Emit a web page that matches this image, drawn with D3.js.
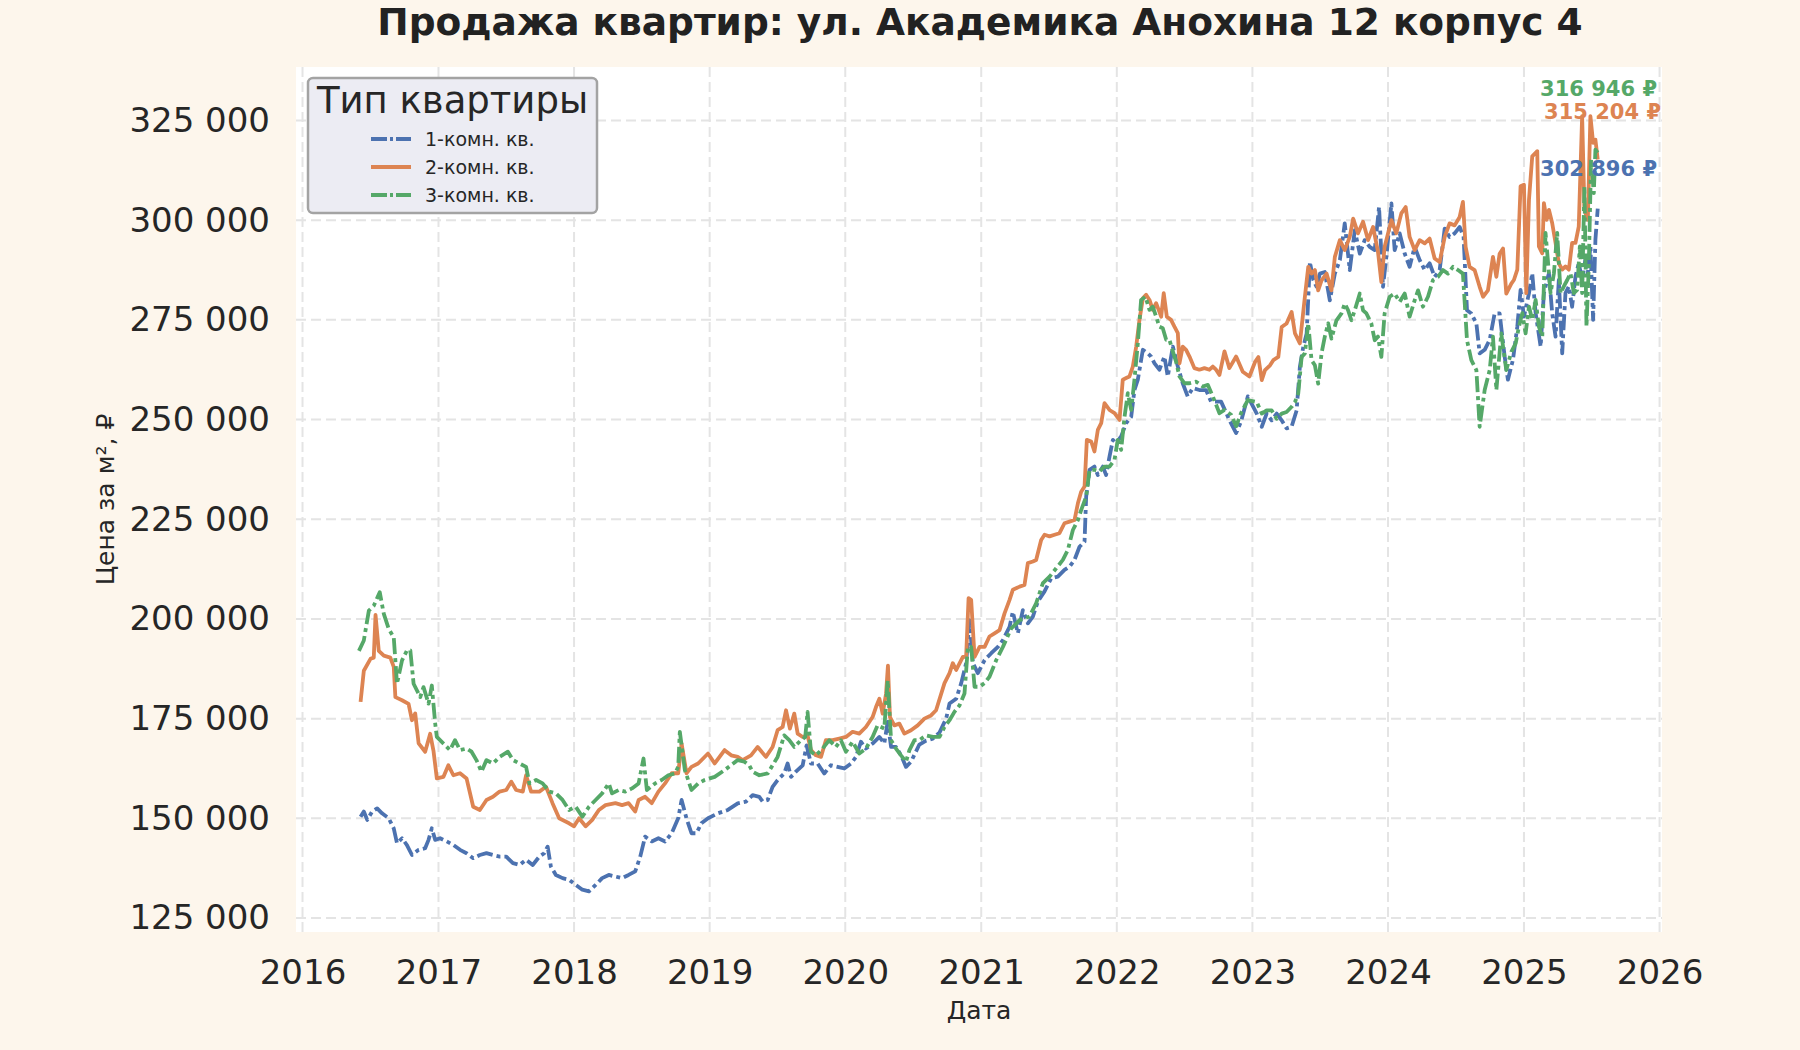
<!DOCTYPE html>
<html>
<head>
<meta charset="utf-8">
<script src="https://cdn.jsdelivr.net/npm/d3@7"></script>
<style>
  html, body { margin: 0; padding: 0; background: #fdf6ec; }
  svg { display: block; font-family: "DejaVu Sans", sans-serif; }
</style>
</head>
<body>
<svg id="chart"></svg>
<script>
const width = 1800;
const height = 1050;

// Tick labels
const xTickYears = [2016, 2017, 2018, 2019, 2020, 2021, 2022, 2023, 2024, 2025, 2026];
const yTickValues = [125000, 150000, 175000, 200000, 225000, 250000, 275000, 300000, 325000];

const seriesNames = ["1-комн. кв.", "2-комн. кв.", "3-комн. кв."];
const seriesColors = ["#4c72b0", "#dd8452", "#55a868"];

// [decimal year, price per m2]
const oneRoom = [
  [2016.427,150400],[2016.451,151700],[2016.476,149600],[2016.512,151700],[2016.549,152500],[2016.585,151250],
  [2016.634,150000],[2016.671,147500],[2016.695,143750],[2016.732,145000],[2016.768,143300],[2016.805,140800],
  [2016.854,142100],[2016.902,142500],[2016.927,144600],[2016.951,147500],[2016.976,144600],[2017.012,145000],
  [2017.061,144200],[2017.110,143300],[2017.159,142100],[2017.207,141250],[2017.256,140000],[2017.305,140800],
  [2017.354,141250],[2017.402,140800],[2017.451,140400],[2017.500,140400],[2017.549,138750],[2017.598,138300],
  [2017.646,139600],[2017.695,138300],[2017.744,140400],[2017.780,141250],[2017.805,142900],[2017.829,137900],
  [2017.866,135800],[2017.915,135000],[2017.963,134600],[2018.012,133300],[2018.061,132100],[2018.110,131700],
  [2018.159,133300],[2018.207,135000],[2018.256,135800],[2018.305,135400],[2018.354,135000],[2018.402,135800],
  [2018.451,136700],[2018.488,140400],[2018.524,145400],[2018.573,144200],[2018.622,145000],[2018.671,144200],
  [2018.720,146250],[2018.768,150000],[2018.793,154600],[2018.829,150000],[2018.866,146250],[2018.902,146250],
  [2018.939,148750],[2018.988,150000],[2019.061,151250],[2019.134,152100],[2019.207,153750],[2019.268,154200],
  [2019.317,155800],[2019.366,155400],[2019.391,154200],[2019.428,154600],[2019.464,157900],[2019.501,159600],
  [2019.550,161250],[2019.575,163750],[2019.600,160400],[2019.636,161700],[2019.686,163300],[2019.715,168300],
  [2019.747,163750],[2019.796,163750],[2019.845,161250],[2019.894,163300],[2019.943,162900],[2019.993,162500],
  [2020.042,163750],[2020.079,165400],[2020.115,169200],[2020.152,167500],[2020.201,168750],[2020.251,170400],
  [2020.287,168750],[2020.312,174200],[2020.337,167900],[2020.373,167900],[2020.410,165800],[2020.447,162900],
  [2020.484,164200],[2020.545,168500],[2020.595,169500],[2020.644,170000],[2020.693,171500],[2020.742,175000],
  [2020.767,178800],[2020.816,180000],[2020.853,183900],[2020.889,188900],[2020.914,199700],[2020.939,188900],
  [2020.975,186400],[2021.025,189700],[2021.074,191400],[2021.123,193000],[2021.160,194700],[2021.209,198000],
  [2021.233,201800],[2021.270,196400],[2021.307,202200],[2021.344,198900],[2021.381,200600],[2021.418,204400],
  [2021.467,206900],[2021.516,210200],[2021.565,210600],[2021.614,212300],[2021.651,213100],[2021.688,214800],
  [2021.725,218100],[2021.762,219400],[2021.774,230700],[2021.799,237400],[2021.835,238200],[2021.860,236100],
  [2021.897,238200],[2021.921,236100],[2021.946,240700],[2021.971,244900],[2021.995,244100],[2022.032,245800],
  [2022.069,249100],[2022.106,250700],[2022.130,257400],[2022.155,260000],[2022.192,267500],[2022.229,266600],
  [2022.253,265800],[2022.278,264100],[2022.314,262500],[2022.351,265800],[2022.376,260800],[2022.413,268300],
  [2022.450,263300],[2022.486,259100],[2022.523,255800],[2022.560,257900],[2022.609,257400],[2022.658,257400],
  [2022.695,254500],[2022.732,254500],[2022.769,254500],[2022.830,249900],[2022.880,246600],[2022.916,249500],
  [2022.966,255800],[2023.032,251500],[2023.069,248200],[2023.105,251500],[2023.142,249800],[2023.179,251500],
  [2023.216,249800],[2023.252,247800],[2023.289,248200],[2023.326,252300],[2023.350,263200],[2023.375,268200],
  [2023.400,271600],[2023.424,289500],[2023.449,285000],[2023.473,283300],[2023.498,286600],[2023.534,287000],
  [2023.571,279900],[2023.608,286600],[2023.645,290000],[2023.681,299200],[2023.718,287500],[2023.755,297500],
  [2023.792,291600],[2023.828,295000],[2023.865,293300],[2023.902,292500],[2023.934,303300],[2023.963,283300],
  [2023.988,290800],[2024.025,304200],[2024.049,292500],[2024.086,296700],[2024.123,291600],[2024.159,288300],
  [2024.196,293300],[2024.233,290000],[2024.270,287500],[2024.306,289200],[2024.343,285800],[2024.380,287500],
  [2024.417,297900],[2024.453,295800],[2024.490,296700],[2024.527,298300],[2024.556,295800],[2024.581,277400],
  [2024.613,276600],[2024.650,274100],[2024.674,266600],[2024.711,267500],[2024.748,270000],[2024.784,276600],
  [2024.821,276600],[2024.858,265800],[2024.882,260000],[2024.919,265000],[2024.951,273300],[2024.975,282500],
  [2025.000,275800],[2025.037,281700],[2025.061,286700],[2025.086,276700],[2025.123,268300],[2025.147,281700],
  [2025.184,286700],[2025.208,276700],[2025.233,270800],[2025.257,285000],[2025.282,266600],[2025.306,281700],
  [2025.331,283400],[2025.355,278300],[2025.380,285900],[2025.404,289200],[2025.429,285000],[2025.453,290100],
  [2025.471,286700],[2025.490,293400],[2025.510,275000],[2025.527,295100],[2025.544,302896]
];

const twoRoom = [
  [2016.427,179200],[2016.451,187000],[2016.500,190000],[2016.524,190300],[2016.537,201000],[2016.561,192000],
  [2016.598,190800],[2016.646,190300],[2016.671,188000],[2016.683,180400],[2016.732,179600],[2016.780,178700],
  [2016.805,174600],[2016.829,176300],[2016.854,168800],[2016.902,166700],[2016.939,171200],[2016.963,167000],
  [2016.988,160000],[2017.037,160400],[2017.073,163300],[2017.110,160800],[2017.159,161300],[2017.207,160000],
  [2017.256,152900],[2017.305,152100],[2017.354,154600],[2017.402,155400],[2017.451,156700],[2017.500,157100],
  [2017.537,159200],[2017.573,157100],[2017.622,156700],[2017.646,160800],[2017.683,156700],[2017.744,156700],
  [2017.793,157900],[2017.841,153800],[2017.890,150000],[2017.963,148750],[2018.000,148000],[2018.037,150000],
  [2018.085,148000],[2018.134,149600],[2018.183,152100],[2018.232,153300],[2018.305,153800],[2018.354,153300],
  [2018.402,153800],[2018.451,151700],[2018.476,154600],[2018.524,155400],[2018.573,153800],[2018.622,156700],
  [2018.671,158750],[2018.720,161300],[2018.768,161300],[2018.793,168750],[2018.829,161300],[2018.866,162900],
  [2018.915,163750],[2018.988,166250],[2019.037,163750],[2019.110,167100],[2019.159,165800],[2019.207,165400],
  [2019.243,164600],[2019.305,165800],[2019.354,167900],[2019.415,165400],[2019.464,167900],[2019.501,172100],
  [2019.538,172900],[2019.563,177100],[2019.592,172500],[2019.624,176250],[2019.649,171250],[2019.686,170400],
  [2019.722,170800],[2019.747,167100],[2019.784,165800],[2019.821,165400],[2019.857,169600],[2019.907,169600],
  [2019.956,170000],[2020.005,170400],[2020.054,171700],[2020.103,171250],[2020.152,172900],[2020.201,175400],
  [2020.226,177900],[2020.251,180000],[2020.275,176250],[2020.300,181250],[2020.314,188300],[2020.329,175400],
  [2020.361,173300],[2020.398,173750],[2020.435,171250],[2020.484,172100],[2020.533,173300],[2020.582,175000],
  [2020.631,175800],[2020.668,177100],[2020.730,183900],[2020.767,186400],[2020.791,188900],[2020.816,187200],
  [2020.865,190500],[2020.889,190500],[2020.907,205200],[2020.926,204800],[2020.951,190500],[2020.988,193000],
  [2021.025,193000],[2021.061,195600],[2021.098,196400],[2021.135,197200],[2021.172,201400],[2021.209,204800],
  [2021.233,207300],[2021.283,208100],[2021.319,208500],[2021.344,214000],[2021.381,214400],[2021.405,214800],
  [2021.442,219800],[2021.467,221100],[2021.504,220700],[2021.541,221100],[2021.577,221500],[2021.614,224000],
  [2021.651,224400],[2021.688,224800],[2021.713,229000],[2021.737,231900],[2021.762,233200],[2021.779,244900],
  [2021.811,244500],[2021.835,242000],[2021.860,247400],[2021.885,249100],[2021.909,254100],[2021.946,252400],
  [2021.983,251600],[2022.020,249900],[2022.044,260000],[2022.069,260400],[2022.093,260800],[2022.118,263300],
  [2022.143,268300],[2022.167,275000],[2022.192,280400],[2022.216,281300],[2022.241,280000],[2022.265,277500],
  [2022.290,279200],[2022.327,275800],[2022.346,281700],[2022.369,275800],[2022.400,275000],[2022.425,273300],
  [2022.450,271700],[2022.462,264100],[2022.486,268300],[2022.511,267500],[2022.536,265800],[2022.572,262900],
  [2022.609,262500],[2022.646,262900],[2022.683,262500],[2022.708,263300],[2022.732,262500],[2022.757,261200],
  [2022.794,267100],[2022.830,262900],[2022.880,265800],[2022.929,262000],[2022.978,260800],[2023.020,264500],
  [2023.044,265700],[2023.069,259900],[2023.093,262400],[2023.130,263600],[2023.154,264900],[2023.191,265700],
  [2023.216,273200],[2023.252,274100],[2023.289,277000],[2023.314,271600],[2023.350,269100],[2023.387,280800],
  [2023.412,288300],[2023.436,286600],[2023.461,287500],[2023.485,282400],[2023.510,284900],[2023.547,286600],
  [2023.583,282400],[2023.608,290800],[2023.645,295000],[2023.681,292500],[2023.718,295800],[2023.743,300400],
  [2023.779,296700],[2023.816,299600],[2023.853,295000],[2023.890,298300],[2023.926,292100],[2023.951,284500],
  [2023.975,293300],[2024.025,300000],[2024.061,296700],[2024.098,301700],[2024.130,303300],[2024.159,295800],
  [2024.196,292500],[2024.233,295000],[2024.270,294200],[2024.306,295400],[2024.343,290400],[2024.380,289500],
  [2024.417,295800],[2024.453,299200],[2024.490,298700],[2024.527,300800],[2024.551,304600],[2024.571,293300],
  [2024.600,288300],[2024.637,287500],[2024.674,283300],[2024.699,280800],[2024.735,282400],[2024.772,290800],
  [2024.797,285800],[2024.821,291600],[2024.846,292900],[2024.870,281600],[2024.907,284100],[2024.926,285000],
  [2024.951,287600],[2024.975,308500],[2025.000,308900],[2025.017,281700],[2025.037,305100],[2025.061,316000],
  [2025.086,316900],[2025.098,317300],[2025.110,293400],[2025.135,291700],[2025.147,304300],[2025.167,300100],
  [2025.184,302600],[2025.208,299300],[2025.233,294300],[2025.257,289200],[2025.282,287600],[2025.306,288400],
  [2025.331,287600],[2025.355,294300],[2025.380,294300],[2025.404,298400],[2025.429,326100],[2025.446,302600],
  [2025.471,300100],[2025.490,326100],[2025.510,319400],[2025.527,320200],[2025.544,315204]
];

const threeRoom = [
  [2016.415,192000],[2016.451,194600],[2016.488,202100],[2016.524,203300],[2016.568,206700],[2016.598,201250],
  [2016.634,197500],[2016.671,195400],[2016.695,183750],[2016.732,189600],[2016.768,192100],[2016.793,192100],
  [2016.817,183750],[2016.866,180400],[2016.890,182900],[2016.927,178750],[2016.951,183300],[2016.976,173750],
  [2016.988,170400],[2017.037,168750],[2017.085,167100],[2017.122,169600],[2017.159,167100],[2017.207,167500],
  [2017.244,166700],[2017.280,164600],[2017.317,161700],[2017.354,164600],[2017.402,163750],[2017.451,165400],
  [2017.512,166700],[2017.549,164600],[2017.598,163750],[2017.646,162900],[2017.671,158750],[2017.720,159600],
  [2017.768,158750],[2017.817,156700],[2017.866,156250],[2017.915,154600],[2017.963,152100],[2018.012,152900],
  [2018.061,150400],[2018.110,152900],[2018.159,154600],[2018.207,156250],[2018.256,158750],[2018.280,156250],
  [2018.329,157100],[2018.378,156700],[2018.427,157500],[2018.476,158750],[2018.512,165000],[2018.537,157100],
  [2018.598,158750],[2018.646,159600],[2018.695,160800],[2018.744,161250],[2018.768,162900],[2018.780,171700],
  [2018.817,162100],[2018.866,157100],[2018.915,158750],[2018.963,159600],[2019.037,160400],[2019.110,162100],
  [2019.207,164600],[2019.256,164200],[2019.292,163300],[2019.317,161700],[2019.366,160800],[2019.428,161250],
  [2019.464,163300],[2019.501,165400],[2019.550,170800],[2019.587,169600],[2019.624,167900],[2019.673,169600],
  [2019.705,170400],[2019.722,176700],[2019.747,166700],[2019.784,165800],[2019.833,167500],[2019.882,169600],
  [2019.931,167900],[2019.968,169600],[2020.005,166700],[2020.054,169200],[2020.103,166250],[2020.152,167500],
  [2020.201,170400],[2020.238,173300],[2020.287,172500],[2020.312,184600],[2020.337,169600],[2020.373,167500],
  [2020.410,165800],[2020.447,164200],[2020.472,167100],[2020.509,169600],[2020.545,169600],[2020.595,170800],
  [2020.644,170400],[2020.693,170400],[2020.730,172900],[2020.767,174600],[2020.803,176700],[2020.840,178300],
  [2020.877,181300],[2020.902,193000],[2020.926,193000],[2020.951,183000],[2020.988,183000],[2021.025,183900],
  [2021.061,185500],[2021.111,189700],[2021.160,193000],[2021.221,197600],[2021.283,199700],[2021.356,200600],
  [2021.405,203900],[2021.455,209000],[2021.504,210600],[2021.553,212700],[2021.602,214800],[2021.639,217300],
  [2021.676,222300],[2021.713,224800],[2021.737,227300],[2021.774,230700],[2021.799,237400],[2021.835,237400],
  [2021.872,237000],[2021.909,238200],[2021.946,238200],[2021.983,239900],[2022.007,244900],[2022.032,242400],
  [2022.057,250700],[2022.081,256600],[2022.106,252400],[2022.130,260000],[2022.155,269100],[2022.179,280000],
  [2022.211,280800],[2022.241,277500],[2022.265,278300],[2022.290,275800],[2022.314,273300],[2022.339,272900],
  [2022.364,270000],[2022.388,270000],[2022.413,267100],[2022.437,264500],[2022.462,260800],[2022.499,259100],
  [2022.536,259100],[2022.585,259500],[2022.634,258300],[2022.671,258700],[2022.708,255800],[2022.757,251600],
  [2022.794,252400],[2022.843,251200],[2022.880,248300],[2022.916,251600],[2022.966,254900],[2023.032,254400],
  [2023.069,251500],[2023.105,252300],[2023.142,252300],[2023.179,250200],[2023.216,251500],[2023.252,251900],
  [2023.289,253200],[2023.314,254400],[2023.338,256500],[2023.363,265700],[2023.387,266600],[2023.412,274100],
  [2023.436,264900],[2023.461,263600],[2023.485,259000],[2023.510,266600],[2023.534,270800],[2023.559,274100],
  [2023.583,270300],[2023.620,274900],[2023.657,276600],[2023.681,279100],[2023.706,277400],[2023.730,274900],
  [2023.755,277400],[2023.792,281600],[2023.816,277400],[2023.841,276600],[2023.877,274100],[2023.902,269900],
  [2023.926,270800],[2023.951,265700],[2023.975,276600],[2024.012,280800],[2024.049,281600],[2024.086,279500],
  [2024.123,281600],[2024.159,275800],[2024.196,279900],[2024.221,282400],[2024.257,278300],[2024.294,280800],
  [2024.331,285000],[2024.368,285800],[2024.404,287500],[2024.441,286600],[2024.478,288300],[2024.515,287500],
  [2024.551,286600],[2024.581,269900],[2024.613,264900],[2024.650,262400],[2024.674,248200],[2024.711,257400],
  [2024.748,262400],[2024.772,270800],[2024.797,257400],[2024.833,271600],[2024.870,262400],[2024.907,267000],
  [2024.939,269100],[2024.963,273300],[2024.988,276700],[2025.012,271600],[2025.037,278300],[2025.061,275000],
  [2025.086,280000],[2025.110,273300],[2025.135,270800],[2025.159,296800],[2025.176,290100],[2025.196,281700],
  [2025.221,286700],[2025.245,296800],[2025.270,281700],[2025.294,283400],[2025.319,285000],[2025.343,286700],
  [2025.368,281700],[2025.392,282500],[2025.412,293400],[2025.429,281700],[2025.446,308500],[2025.461,273300],
  [2025.478,288400],[2025.495,315200],[2025.515,306800],[2025.527,317700],[2025.544,316946]
];

const allSeries = [oneRoom, twoRoom, threeRoom];

// decimal year -> Date
function yearToDate(y) {
    const yr = Math.floor(y);
    const start = new Date(yr, 0, 1).getTime();
    const end = new Date(yr + 1, 0, 1).getTime();
    return new Date(start + (y - yr) * (end - start));
}

const margin = { left: 296, right: 1800 - 1662, top: 67, bottom: 1050 - 932 };

const svg = d3.select("#chart")
    .attr("width", width)
    .attr("height", height)
    .attr("viewBox", `0 0 ${width} ${height}`);

svg.append("rect")
    .attr("width", width)
    .attr("height", height)
    .attr("fill", "#fdf6ec");

const x = d3.scaleTime()
    .domain([yearToDate(2015.952), yearToDate(2026.018)])
    .range([margin.left, width - margin.right]);

const y = d3.scaleLinear()
    .domain([121490, 338415])
    .range([height - margin.bottom, margin.top]);

// plot background
svg.append("rect")
    .attr("x", margin.left)
    .attr("y", margin.top)
    .attr("width", width - margin.left - margin.right)
    .attr("height", height - margin.top - margin.bottom)
    .attr("fill", "#ffffff");

// grid
const grid = svg.append("g").attr("class", "grid")
    .attr("stroke", "#e4e4e4")
    .attr("stroke-width", 2)
    .attr("stroke-dasharray", "10,5");

grid.selectAll("line.h")
    .data(yTickValues)
    .enter().append("line")
    .attr("class", "h")
    .attr("x1", margin.left)
    .attr("x2", width - margin.right)
    .attr("y1", d => y(d))
    .attr("y2", d => y(d));

grid.selectAll("line.v")
    .data(xTickYears)
    .enter().append("line")
    .attr("class", "v")
    .attr("x1", d => x(new Date(d, 0, 1)))
    .attr("x2", d => x(new Date(d, 0, 1)))
    .attr("y1", margin.top)
    .attr("y2", height - margin.bottom);

// axes
const fmt = d => d3.format(",")(d).replace(/,/g, " ");

const yAxis = svg.append("g")
    .attr("transform", `translate(${margin.left},0)`)
    .call(d3.axisLeft(y).tickValues(yTickValues).tickFormat(fmt).tickSize(0).tickPadding(26));

const xAxis = svg.append("g")
    .attr("transform", `translate(0,${height - margin.bottom})`)
    .call(d3.axisBottom(x)
        .tickValues(xTickYears.map(d => new Date(d, 0, 1)))
        .tickFormat(d3.timeFormat("%Y"))
        .tickSize(0)
        .tickPadding(28));

[xAxis, yAxis].forEach(a => {
    a.select(".domain").remove();
    a.selectAll("text")
        .attr("font-family", "DejaVu Sans")
        .attr("font-size", 34)
        .attr("fill", "#262626");
});

// series lines
const line = d3.line()
    .x(d => x(yearToDate(d[0])))
    .y(d => y(d[1]));

const dashes = ["16,4,4,4", null, "16,4,4,4"];

const linesGroup = svg.append("g").attr("class", "lines");
allSeries.forEach((s, i) => {
    linesGroup.append("path")
        .datum(s)
        .attr("fill", "none")
        .attr("stroke", seriesColors[i])
        .attr("stroke-width", 3.8)
        .attr("stroke-linejoin", "round")
        .attr("stroke-dasharray", dashes[i])
        .attr("d", line);
});

// last value labels (offset up so they don't collide)
const labelShift = [-40, -48, -64];
const labelRight = [1657, 1661, 1657];
allSeries.forEach((s, i) => {
    const last = s[s.length - 1];
    svg.append("text")
        .attr("x", labelRight[i])
        .attr("y", y(last[1]) + labelShift[i])
        .attr("dy", "0.35em")
        .attr("text-anchor", "end")
        .attr("font-size", 21)
        .attr("font-weight", "bold")
        .attr("fill", seriesColors[i])
        .text(fmt(last[1]) + " ₽");
});

// title and axis labels
svg.append("text")
    .attr("x", 980)
    .attr("y", 35)
    .attr("text-anchor", "middle")
    .attr("font-size", 37.5)
    .attr("font-weight", "bold")
    .attr("fill", "#222222")
    .text("Продажа квартир: ул. Академика Анохина 12 корпус 4");

svg.append("text")
    .attr("x", (margin.left + width - margin.right) / 2)
    .attr("y", 1019)
    .attr("text-anchor", "middle")
    .attr("font-size", 25)
    .attr("fill", "#262626")
    .text("Дата");

svg.append("text")
    .attr("transform", `translate(114,${(margin.top + height - margin.bottom) / 2}) rotate(-90)`)
    .attr("text-anchor", "middle")
    .attr("font-size", 25)
    .attr("fill", "#262626")
    .text("Цена за м², ₽");

// legend
const legend = svg.append("g").attr("class", "legend");
legend.append("rect")
    .attr("x", 308)
    .attr("y", 78)
    .attr("width", 289)
    .attr("height", 135)
    .attr("rx", 5)
    .attr("fill", "#ececf3")
    .attr("stroke", "#a3a3a3")
    .attr("stroke-width", 2.5);

legend.append("text")
    .attr("x", 452.5)
    .attr("y", 113)
    .attr("text-anchor", "middle")
    .attr("font-size", 37)
    .attr("fill", "#262626")
    .text("Тип квартиры");

seriesNames.forEach((name, i) => {
    const ly = 139 + i * 28;
    legend.append("line")
        .attr("x1", 371)
        .attr("x2", 411)
        .attr("y1", ly)
        .attr("y2", ly)
        .attr("stroke", seriesColors[i])
        .attr("stroke-width", 3.8)
        .attr("stroke-dasharray", dashes[i] ? "16,3,3,3" : null);
    legend.append("text")
        .attr("x", 425)
        .attr("y", ly)
        .attr("dy", "0.35em")
        .attr("font-size", 19)
        .attr("fill", "#262626")
        .text(name);
});
</script>
</body>
</html>
